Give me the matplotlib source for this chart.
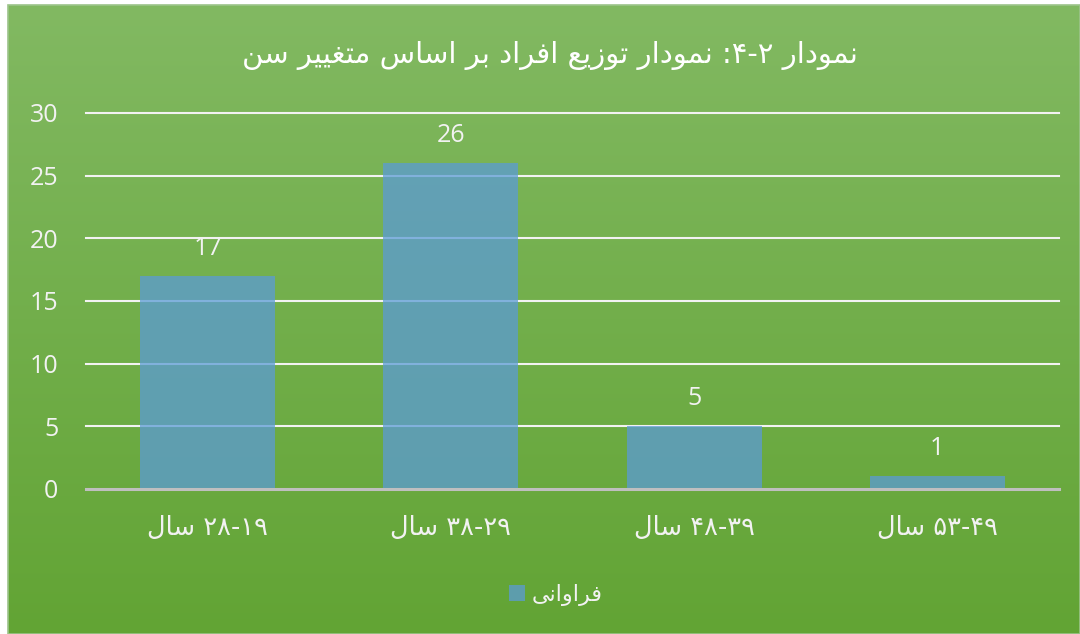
import numpy as np
import matplotlib
matplotlib.use("Agg")
import matplotlib.pyplot as plt
from matplotlib import font_manager, ft2font
from matplotlib.patches import Patch, Rectangle

# ---------------- data ----------------
title_text = "نمودار ۴-۲: نمودار توزیع افراد بر اساس متغییر سن"
categories = ["۲۸-۱۹ سال", "۳۸-۲۹ سال", "۴۸-۳۹ سال", "۵۳-۴۹ سال"]
values = [17, 26, 5, 1]
series_name = "فراوانی"
y_ticks = [0, 5, 10, 15, 20, 25, 30]

# ---------------- simple Arabic/Persian shaping + bidi ----------------
FA_FONT = "DejaVu Sans"
_fpath = font_manager.findfont(FA_FONT)
_ft = ft2font.FT2Font(_fpath)

def _has(cp):
    try:
        return _ft.get_char_index(cp) != 0
    except Exception:
        return False

# (isolated, final, initial, medial)
FORMS = {
    "ا": (0xFE8D, 0xFE8E, None, None),
    "ب": (0xFE8F, 0xFE90, 0xFE91, 0xFE92),
    "ت": (0xFE95, 0xFE96, 0xFE97, 0xFE98),
    "د": (0xFEA9, 0xFEAA, None, None),
    "ر": (0xFEAD, 0xFEAE, None, None),
    "ز": (0xFEAF, 0xFEB0, None, None),
    "س": (0xFEB1, 0xFEB2, 0xFEB3, 0xFEB4),
    "ع": (0xFEC9, 0xFECA, 0xFECB, 0xFECC),
    "غ": (0xFECD, 0xFECE, 0xFECF, 0xFED0),
    "ف": (0xFED1, 0xFED2, 0xFED3, 0xFED4),
    "ل": (0xFEDD, 0xFEDE, 0xFEDF, 0xFEE0),
    "م": (0xFEE1, 0xFEE2, 0xFEE3, 0xFEE4),
    "ن": (0xFEE5, 0xFEE6, 0xFEE7, 0xFEE8),
    "و": (0xFEED, 0xFEEE, None, None),
    "ی": (0xFBFC, 0xFBFD, 0xFBFE, 0xFBFF),
}
YEH_FALLBACK = (0xFEEF, 0xFEF0, 0xFEF3, 0xFEF4)
if not all(_has(c) for c in FORMS["ی"]):
    FORMS["ی"] = YEH_FALLBACK

def _dual(ch):
    return ch in FORMS and FORMS[ch][2] is not None

def reshape(s):
    out = []
    for i, ch in enumerate(s):
        if ch not in FORMS:
            out.append(ch)
            continue
        prev = s[i - 1] if i > 0 else ""
        nxt = s[i + 1] if i + 1 < len(s) else ""
        jp = _dual(prev)
        jn = _dual(ch) and (nxt in FORMS)
        iso, fin, ini, med = FORMS[ch]
        if jp and jn:
            cp = med
        elif jp:
            cp = fin
        elif jn:
            cp = ini
        else:
            cp = iso
        out.append(chr(cp) if cp and _has(cp) else ch)
    return "".join(out)

def _is_num(ch):
    return ("\u06F0" <= ch <= "\u06F9") or ch.isdigit()

def visual(s):
    shaped = reshape(s)
    runs = []
    i = 0
    while i < len(shaped):
        if _is_num(shaped[i]):
            j = i
            while j < len(shaped) and (_is_num(shaped[j]) or
                                       (shaped[j] == "-" and j + 1 < len(shaped) and _is_num(shaped[j + 1]))):
                j += 1
            runs.append(shaped[i:j])
            i = j
        else:
            runs.append(shaped[i])
            i += 1
    return "".join(runs[::-1])

# ---------------- figure ----------------
W, H = 1080, 634
fig = plt.figure(figsize=(W / 100, H / 100), dpi=100, facecolor="white")

bg = fig.add_axes([8 / W, 0, 1 - 8 / W, 1 - 5 / H], zorder=0)
top = np.array([130, 185, 98]) / 255
bot = np.array([98, 164, 52]) / 255
t = np.linspace(0, 1, 256)[:, None]
grad = (top[None, :] * (1 - t) + bot[None, :] * t)[:, None, :]
bg.imshow(grad, aspect="auto", extent=[0, 1, 0, 1], origin="upper")
bg.set_xlim(0, 1)
bg.set_ylim(0, 1)
bg.axis("off")
fig.add_artist(Rectangle((8 / W, 0), 1 - 8 / W, 1 - 5 / H, transform=fig.transFigure,
                         fill=False, edgecolor="#9CC48A", linewidth=1.2, zorder=1))

ax = fig.add_axes([86 / W, (H - 489) / H, (1059 - 86) / W, (489 - 113) / H], zorder=2)
ax.patch.set_alpha(0)

x = np.arange(len(categories))
ax.bar(x, values, width=0.555, color="#5B9BD5", alpha=0.75, zorder=3, linewidth=0)

ax.set_xlim(-0.5, len(categories) - 0.5)
ax.set_ylim(0, 30)
ax.set_yticks(y_ticks)
for yv in y_ticks[1:]:
    ax.axhline(yv, color="#F2F2F2", linewidth=1.5, zorder=1, clip_on=False)
ax.axhline(0, color="#BFBFBF", linewidth=2.2, zorder=4, clip_on=False)

for s in ax.spines.values():
    s.set_visible(False)

num_font = "Open Sans"
ax.tick_params(axis="y", length=0, pad=20, labelsize=18, labelcolor="#F2F2F2")
ax.tick_params(axis="x", length=0, pad=19, labelsize=18, labelcolor="#F2F2F2")
for lab in ax.get_yticklabels():
    lab.set_fontfamily(num_font)
ax.set_xticks(x)
ax.set_xticklabels([visual(c) for c in categories], family=[FA_FONT], fontsize=18.5)

for xi, v in zip(x, values):
    ax.annotate(str(v), (xi, v), xytext=(0, 20), textcoords="offset points",
                ha="center", va="center", color="#F2F2F2", fontsize=18, family=num_font)

fig.text(550 / W, 1 - 56 / H, visual(title_text), ha="center", va="center",
         color="white", fontsize=21, family=[FA_FONT], zorder=5)

handle = Patch(facecolor="#5B9BD5", alpha=0.75, edgecolor="none")
fig.legend([handle], [visual(series_name)], loc="center",
           bbox_to_anchor=(556 / W, 1 - 595 / H), frameon=False,
           prop={"family": FA_FONT, "size": 16}, handlelength=0.7,
           handleheight=0.7, handletextpad=0.3, labelcolor="#F2F2F2")

fig.savefig("out.png", dpi=100, facecolor="white")
